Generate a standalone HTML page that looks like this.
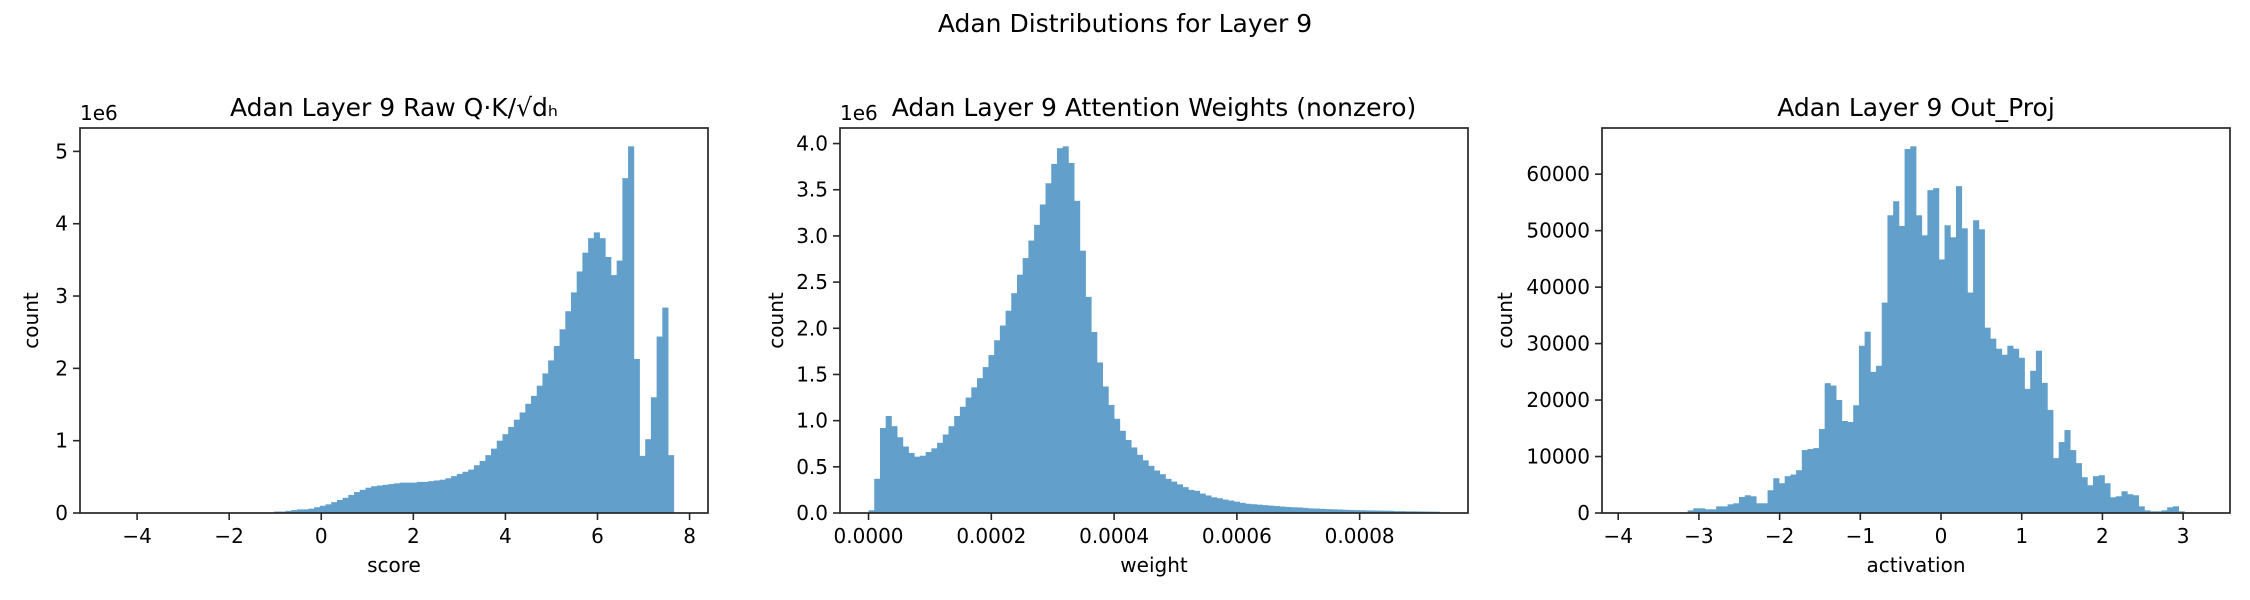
<!DOCTYPE html>
<html><head><meta charset="utf-8"><style>
html,body{margin:0;padding:0;background:#fff;}
svg{display:block;font-family:"DejaVu Sans","Liberation Sans",sans-serif;}
</style></head><body>
<svg id="fig" width="2250" height="600" viewBox="0 0 2250 600">
<text x="1125" y="32" text-anchor="middle" font-size="25" fill="#000">Adan Distributions for Layer 9</text>
</svg>
<script>
// Panel 1: raw scores (bins 0..99 over [-4.62, 7.78]), values in millions
const p1Counts = [0,0,0,0,0,0,0,0,0,0,0,0,0,0,0,0,0,0,0,0,0,0,0,0,0,0,0,0,0,
0.02,0.02,0.03,0.04,0.05,0.05,0.06,0.08,0.10,0.12,0.15,0.18,0.21,0.25,0.29,0.32,0.35,0.37,0.38,0.39,0.40,0.41,0.42,0.42,0.42,0.43,0.43,0.44,0.45,0.46,0.48,0.51,0.54,0.57,0.60,0.66,0.72,
0.80,0.89,1.00,1.09,1.19,1.29,1.39,1.51,1.62,1.76,1.93,2.11,2.31,2.54,2.79,3.05,3.34,3.60,3.80,3.88,3.80,3.54,3.29,3.49,4.63,5.07,2.13,0.79,1.02,1.60,2.44,2.84,0.80,0];
const p1Range = [-4.62, 7.78];
const p1XTicks = [-4,-2,0,2,4,6,8];
const p1YTicks = [0,1,2,3,4,5];
// Panel 2: attention weights (bins over [0, 0.00093]), millions
const p2Counts = [0.03,0.37,0.92,1.05,0.94,0.82,0.72,0.65,0.61,0.62,0.66,0.70,0.76,0.85,0.94,1.05,1.15,1.25,1.36,1.46,1.58,1.71,1.87,2.03,2.19,2.38,2.58,2.76,2.95,3.12,3.34,3.57,3.78,3.95,3.97,3.79,3.38,2.84,2.34,1.96,1.63,1.37,1.17,1.02,0.89,0.79,0.71,0.63,0.57,0.51,0.46,0.42,0.37,0.34,0.31,0.28,0.25,0.24,0.21,0.19,0.17,0.16,0.145,0.134,0.123,0.11,0.10,0.095,0.09,0.085,0.08,0.075,0.07,0.065,0.062,0.06,0.055,0.05,0.048,0.045,0.042,0.04,0.038,0.035,0.033,0.031,0.03,0.028,0.027,0.026,0.025,0.024,0.02,0.02,0.018,0.018,0.017,0.016,0.015,0.014];
const p2Range = [0, 0.00093];
const p2XTicks = [0,0.0002,0.0004,0.0006,0.0008];
const p2YTicks = [0,0.5,1.0,1.5,2.0,2.5,3.0,3.5,4.0];
// Panel 3: out_proj activations (bins over [-3.847, 3.227])
const p3Counts = [0,0,0,0,0,0,20,40,60,100,470,830,830,650,650,1180,1180,1540,1720,2840,3140,2960,1720,1720,4030,6160,5270,6520,6810,7580,11140,11320,11490,14870,22990,22570,20020,16290,16110,19080,29620,32110,25000,26070,37260,52720,55210,50830,64450,64930,52720,49170,57170,57520,44900,50950,48820,57880,50410,39040,51840,50240,32820,30870,29090,28020,29620,29090,27490,21980,25180,28730,23040,18250,9720,12560,14690,11140,8830,6340,4920,6520,6690,5270,2780,2960,3850,3320,3140,1180,470,300,300,470,1010,1180,300,40,20,10];
const p3Range = [-3.847, 3.227];
const p3XTicks = [-4,-3,-2,-1,0,1,2,3];
const p3YTicks = [0,10000,20000,30000,40000,50000,60000];

const NS='http://www.w3.org/2000/svg';
const svg=document.getElementById('fig');
function mk(tag,attrs,parent){const e=document.createElementNS(NS,tag);for(const k in attrs)e.setAttribute(k,attrs[k]);(parent||svg).appendChild(e);return e;}
const TOP=128,BOT=513;

function panel(o){
  const g=mk('g',{});
  
  
  const span=o.range[1]-o.range[0];
  const x0=o.range[0]-span*0.05,x1=o.range[1]+span*0.05;
  const ymax=Math.max(...o.counts)*1.05;
  const X=v=>o.left+(v-x0)/(x1-x0)*(o.right-o.left);
  const Y=v=>BOT-v/ymax*(BOT-TOP);
  const n=o.counts.length,bw=span/n;
  o.counts.forEach((c,i)=>{
    if(c<=0)return;
    const xa=X(o.range[0]+i*bw),xb=X(o.range[0]+(i+1)*bw);
    const r=mk('rect',{x:xa,y:Y(c),width:xb-xa+0.4,height:BOT-Y(c),fill:'#629fca'},g);
    
    
  });
  const fr=mk('rect',{x:o.left,y:TOP,width:o.right-o.left,height:BOT-TOP,fill:'none',stroke:'#262626','stroke-width':1.7},g);
  
  
  o.xticks.forEach((t,i)=>{
    const x=X(t);
    mk('line',{x1:x,x2:x,y1:BOT,y2:BOT+7,stroke:'#262626','stroke-width':1.6},g);
    const tx=mk('text',{x:x,y:BOT+30,'text-anchor':'middle','font-size':20,fill:'#000'},g);
    tx.textContent=o.xfmt(t);
    
    
  });
  o.yticks.forEach(t=>{
    const y=Y(t);
    mk('line',{x1:o.left-7,x2:o.left,y1:y,y2:y,stroke:'#262626','stroke-width':1.6},g);
    const ty=mk('text',{x:o.left-12,y:y+7,'text-anchor':'end','font-size':20,fill:'#000'},g);
    ty.textContent=o.yfmt(t);
    
    
  });
  const ti=mk('text',{x:(o.left+o.right)/2,y:116,'text-anchor':'middle','font-size':25,fill:'#000'},g);
  ti.textContent=o.title;
  
  
  const xl=mk('text',{x:(o.left+o.right)/2,y:572,'text-anchor':'middle','font-size':20,fill:'#000'},g);
  xl.textContent=o.xlabel;
  
  
  const yl=mk('text',{x:0,y:0,'text-anchor':'middle','font-size':20,fill:'#000',transform:`translate(${o.ylabelX},${(TOP+BOT)/2}) rotate(-90)`},g);
  yl.textContent='count';
  
  
  if(o.offset){
    const of=mk('text',{x:o.left,y:120,'font-size':20,fill:'#000'},g);
    of.textContent=o.offset;
    
    
  }
}
panel({name:'raw-score-panel',left:80,right:708,counts:p1Counts,range:p1Range,xticks:p1XTicks,yticks:p1YTicks,
  xfmt:t=>String(t).replace('-','\u2212'),yfmt:t=>String(t),title:'Adan Layer 9 Raw Q\u00b7K/\u221ad\u2095',xlabel:'score',ylabelX:38,offset:'1e6'});
panel({name:'attention-weights-panel',left:840,right:1468,counts:p2Counts,range:p2Range,xticks:p2XTicks,yticks:p2YTicks,
  xfmt:t=>t.toFixed(4),yfmt:t=>t.toFixed(1),title:'Adan Layer 9 Attention Weights (nonzero)',xlabel:'weight',ylabelX:783,offset:'1e6'});
panel({name:'out-proj-panel',left:1602,right:2230,counts:p3Counts,range:p3Range,xticks:p3XTicks,yticks:p3YTicks,
  xfmt:t=>String(t).replace('-','\u2212'),yfmt:t=>String(t),title:'Adan Layer 9 Out_Proj',xlabel:'activation',ylabelX:1512});
</script>
</body></html>
